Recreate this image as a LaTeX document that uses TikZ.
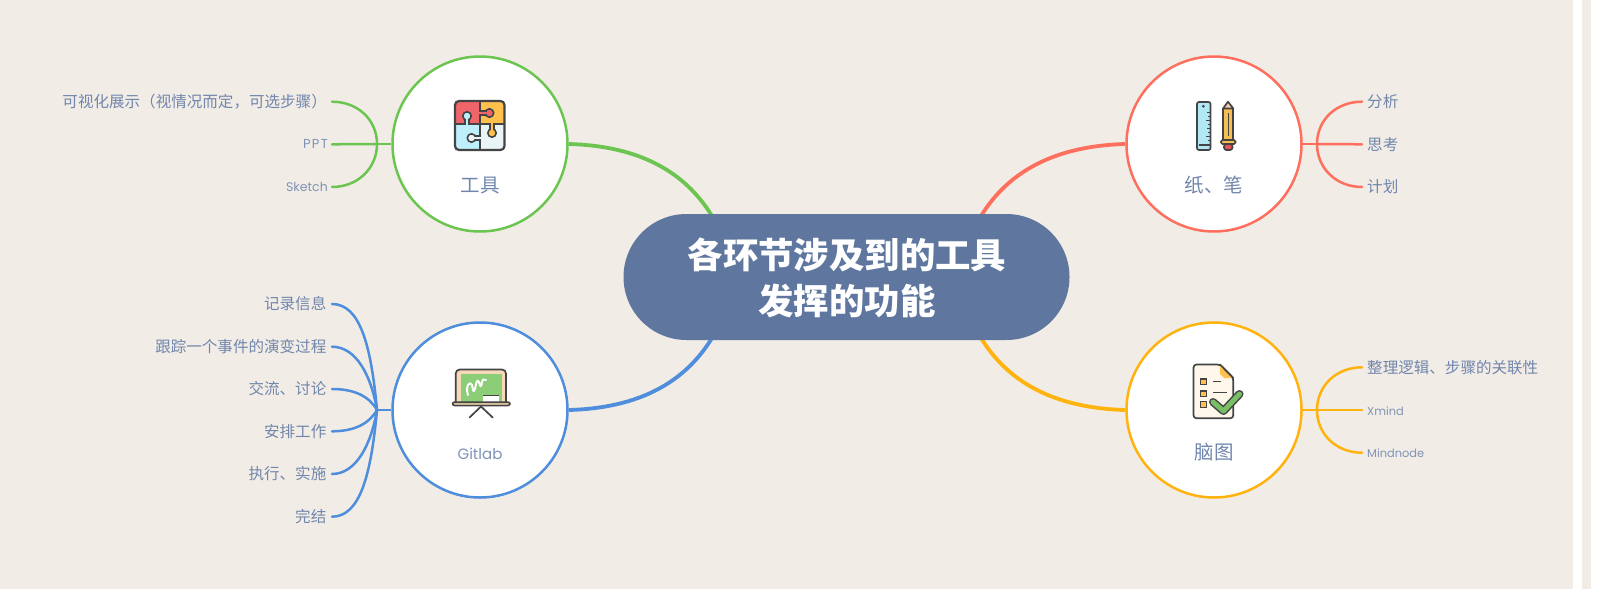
\documentclass[tikz,border=0pt]{standalone}
\usepackage{fontspec}
\setmainfont{Noto Sans CJK SC}
\newfontfamily\latinhand{Poppins}
\definecolor{bgc}{HTML}{F1ECE6}
\definecolor{txt}{HTML}{7186AC}
\definecolor{txtl}{HTML}{8093B6}
\definecolor{cen}{HTML}{5F779F}
\definecolor{gr}{HTML}{6CC551}
\definecolor{bl}{HTML}{4F8EDD}
\definecolor{rd}{HTML}{FF6F5E}
\definecolor{ye}{HTML}{FFB30F}
\definecolor{ink}{HTML}{444444}
\definecolor{pzred}{HTML}{F0656A}
\definecolor{pzyel}{HTML}{FFC04D}
\definecolor{pzblu}{HTML}{BDF0FB}
\definecolor{pzpal}{HTML}{E8F4F5}
\definecolor{peach}{HTML}{F6D9B8}
\definecolor{board}{HTML}{8CCD78}
\definecolor{shelf}{HTML}{D9C09C}
\definecolor{rul}{HTML}{B2E8F3}
\definecolor{pencil}{HTML}{F6BE50}
\definecolor{tip}{HTML}{F6CDAF}
\definecolor{eraser}{HTML}{E7555A}
\definecolor{paper}{HTML}{FFF8EA}
\definecolor{chk}{HTML}{78BE64}
\tikzset{
  hub/.style={circle,draw=#1,fill=white,line width=2.5pt,minimum size=175pt,inner sep=0pt},
  main/.style={line width=3.8pt,color=#1},
  twig/.style={line width=2.5pt,color=#1,line cap=round},
  leafl/.style={anchor=east,text=txt,font=\fontsize{15.55}{18}\selectfont,inner sep=0pt},
  leafr/.style={anchor=west,text=txt,font=\fontsize{15.55}{18}\selectfont,inner sep=0pt},
  latl/.style={anchor=east,text=txtl,font=\fontsize{12.5}{15}\latinhand,inner sep=0pt},
  latr/.style={anchor=west,text=txtl,font=\fontsize{11.4}{15}\latinhand,inner sep=0pt},
  hubtext/.style={text=txt,font=\fontsize{19.5}{22}\selectfont,inner sep=0pt},
  ic/.style={draw=ink,line width=1.7pt,line join=round,line cap=round},
  knob/.style={draw=ink,line width=1.6pt,fill=#1},
}
\begin{document}
\begin{tikzpicture}[x=1pt,y=-1pt]
\useasboundingbox (0,0) rectangle (1600,589);
\fill[white] (0,0) rectangle (1600,589);
\fill[bgc] (0,0) rectangle (1573,589);
\fill[bgc] (1582,0) rectangle (1591,589);

% hubs and centre
\coordinate (cnw) at (712,216);
\coordinate (cne) at (981,216);
\coordinate (csw) at (712,338);
\coordinate (cse) at (981,338);
\node[hub=gr] (tools) at (480,144) {};
\node[hub=bl] (git) at (480,410) {};
\node[hub=rd] (pen) at (1214,144) {};
\node[hub=ye] (brain) at (1214,410) {};

\draw[main=gr] (tools.east) .. controls (640,146) and (685,172) .. (cnw);
\draw[main=bl] (git.east) .. controls (640,408) and (685,382) .. (csw);
\draw[main=rd] (pen.west) .. controls (1054,146) and (1008,172) .. (cne);
\draw[main=ye] (brain.west) .. controls (1054,408) and (1008,382) .. (cse);

\node[fill=cen,rounded corners=63pt,minimum width=446pt,minimum height=126pt,inner sep=0pt] (centre) at (846.5,277) {};
\node[text=white,font=\fontsize{35.4}{46}\selectfont\bfseries,align=center,inner sep=0pt] (centretext) at (847,278) {各环节涉及到的工具\\发挥的功能};

% hub labels
\node[hubtext] (tl) at (480,185.5) {工具};
\node[hubtext,font=\fontsize{15}{18}\latinhand,text=txtl] (gl) at (480,454) {Gitlab};
\node[hubtext] (pl) at (1214,185.5) {纸、笔};
\node[hubtext] (bl1) at (1214,452) {脑图};

% left green
\coordinate (jt) at (377,144);
\draw[twig=gr,line cap=butt] (tools.west) -- (jt);
\node[leafl] (t1) at (327,101.7) {可视化展示（视情况而定，可选步骤）};
\node[latl,font=\fontsize{13}{15}\latinhand\addfontfeature{LetterSpace=10}] (t2) at (328,144.3) {PPT};
\node[latl] (t3) at (328,187) {Sketch};
\coordinate (t1e) at (332,101.7);
\coordinate (t2e) at (332,144.3);
\coordinate (t3e) at (332,187);
\draw[twig=gr] (t1e) .. controls (358,101.7) and (377,120) .. (jt);
\draw[twig=gr] (t2e) -- (jt);
\draw[twig=gr] (t3e) .. controls (358,187) and (377,168) .. (jt);

% left blue
\coordinate (jg) at (377,410);
\draw[twig=bl,line cap=butt] (git.west) -- (jg);
\node[leafl] (g1) at (326.5,304) {记录信息};
\node[leafl] (g2) at (326.5,346.7) {跟踪一个事件的演变过程};
\node[leafl] (g3) at (326.5,389) {交流、讨论};
\node[leafl] (g4) at (326.5,431.3) {安排工作};
\node[leafl] (g5) at (326.5,474) {执行、实施};
\node[leafl] (g6) at (326.5,516.7) {完结};
\coordinate (g1e) at (332,304);
\coordinate (g2e) at (332,346.7);
\coordinate (g3e) at (332,389);
\coordinate (g4e) at (332,431.3);
\coordinate (g5e) at (332,474);
\coordinate (g6e) at (332,516.7);
\draw[twig=bl] (g1e) .. controls (360,304) and (371,345) .. (jg);
\draw[twig=bl] (g2e) .. controls (356,346.7) and (371,375) .. (jg);
\draw[twig=bl] (g3e) .. controls (354,389) and (369,396) .. (jg);
\draw[twig=bl] (g4e) .. controls (354,431.3) and (369,424) .. (jg);
\draw[twig=bl] (g5e) .. controls (356,474) and (371,445) .. (jg);
\draw[twig=bl] (g6e) .. controls (360,516.7) and (371,475) .. (jg);

% right red
\coordinate (jp) at (1317,144);
\draw[twig=rd,line cap=butt] (pen.east) -- (jp);
\node[leafr] (p1) at (1367,101.7) {分析};
\node[leafr] (p2) at (1367,144.3) {思考};
\node[leafr] (p3) at (1367,187) {计划};
\coordinate (p1e) at (1362,101.7);
\coordinate (p2e) at (1362,144.3);
\coordinate (p3e) at (1362,187);
\draw[twig=rd] (p1e) .. controls (1336,101.7) and (1317,120) .. (jp);
\draw[twig=rd] (p2e) -- (jp);
\draw[twig=rd] (p3e) .. controls (1336,187) and (1317,168) .. (jp);

% right yellow
\coordinate (jb) at (1317,410);
\draw[twig=ye,line cap=butt] (brain.east) -- (jb);
\node[leafr] (b1) at (1367,367.3) {整理逻辑、步骤的关联性};
\node[latr] (b2) at (1367,411) {Xmind};
\node[latr] (b3) at (1367,453) {Mindnode};
\coordinate (b1e) at (1362,367.3);
\coordinate (b2e) at (1362,410);
\coordinate (b3e) at (1362,452.7);
\draw[twig=ye] (b1e) .. controls (1336,367.3) and (1317,386) .. (jb);
\draw[twig=ye] (b2e) -- (jb);
\draw[twig=ye] (b3e) .. controls (1336,452.7) and (1317,434) .. (jb);

% puzzle icon
\begin{scope}
\clip[rounded corners=4pt] (455,101) rectangle (504.5,150);
\fill[pzred] (455,101) rectangle (480,124);
\fill[pzyel] (480,101) rectangle (504.5,124);
\fill[pzblu] (455,124) rectangle (480,150);
\fill[pzpal] (480,124) rectangle (504.5,150);
\end{scope}
\draw[ink,line width=1.7pt] (480,101) -- (480,150) (455,124) -- (504.5,124);
% knob: blue into red
\draw[knob=pzblu] (465,118) rectangle (469,124);
\draw[knob=pzblu] (467,116) circle (4.2);
\fill[pzblu] (465.8,116) rectangle (468.2,125);
% knob: red into yellow
\draw[knob=pzred] (480,111) rectangle (486,115);
\draw[knob=pzred] (489.5,113) circle (4.2);
\fill[pzred] (479,111.8) rectangle (489.5,114.2);
% knob: yellow into pale
\draw[knob=pzyel] (490,124) rectangle (494,130);
\draw[knob=pzyel] (492,133) circle (4.2);
\fill[pzyel] (490.8,123) rectangle (493.2,133);
% knob: pale into blue
\draw[knob=pzpal] (474,136) rectangle (480,140);
\draw[knob=pzpal] (471.5,138) circle (4.2);
\fill[pzpal] (471.5,136.8) rectangle (481,139.2);
\draw[ink,line width=2.2pt,rounded corners=4pt] (455,101) rectangle (504.5,150);

% blackboard
\begin{scope}[yshift=-270pt]
\draw[ic,fill=peach,rounded corners=4pt] (455.7,133) -- (455.7,99.5) -- (506,99.5) -- (506,133);
\fill[board] (460.7,104) rectangle (501.5,132);
\fill[white] (483.3,125.5) rectangle (499,132);
\draw[ink,line width=1.3pt] (483.3,125.5) -- (499,125.5);
\draw[white,line width=2pt,line cap=round,line join=round] (468,125) .. controls (465,116) and (470,110) .. (472,115) .. controls (473,119) and (473,124) .. (475,119) .. controls (476,114) and (477,108) .. (479,112) .. controls (480,116) and (481,119) .. (482,112) .. controls (483,108) and (484,110) .. (486,110);
\draw[ic,line width=1.5pt,fill=shelf,rounded corners=2pt] (452.5,132) rectangle (510,135.5);
\draw[ic] (469.5,147.5) -- (481,136.5) -- (492.7,147.5);
\end{scope}

% ruler
\draw[ic,fill=rul,rounded corners=2pt] (1197,102) rectangle (1210.5,150);
\fill[ink] (1203.3,106.3) circle (1.5);
\foreach \yy/\ll in {112/4,116/3,120/5,124/3,128/4,132/3,136/5,140/3}{
  \draw[ink,line width=1pt] (1210.5,\yy) -- ++(-\ll,0);
}
\draw[ink,line width=1.2pt] (1199,145) -- (1210,145);
% pencil
\draw[ic,fill=pencil] (1223,140) -- (1223,108.5) -- (1233.3,108.5) -- (1233.3,140) -- cycle;
\draw[ic,fill=tip] (1223,108.5) -- (1228,101.7) -- (1233.3,108.5) -- cycle;
\draw[ink,line width=1.2pt] (1228.2,113) -- (1228.2,136);
\draw[ic,fill=eraser,rounded corners=2.5pt] (1224,144) rectangle (1232.5,150);
\draw[ic,fill=pencil,rounded corners=1.5pt] (1221,140) rectangle (1235.5,144);

% checklist
\draw[ic,fill=paper,rounded corners=3pt] (1233.3,378) -- (1233.3,418.3) -- (1193.5,418.3) -- (1193.5,364.5) -- (1220,364.5) -- cycle;
\fill[pzyel] (1220,364.5) -- (1233.3,378) -- (1224,378) -- (1220,374) -- cycle;
\draw[ic] (1220,364.5) -- (1233.3,378);
\foreach \yy in {379,391,401.7}{
  \draw[ink,line width=1.3pt,fill=pzyel] (1200.7,\yy) rectangle ++(6,5.7);
}
\draw[ink,line width=1.3pt] (1212.7,381.7) -- (1220.7,381.7) (1212.7,392.7) -- (1226.7,392.7);
\draw[ink,line width=8pt,line cap=round,line join=round] (1213,402) -- (1223.5,411) -- (1239.5,394);
\draw[chk,line width=5pt,line cap=round,line join=round] (1213,402) -- (1223.5,411) -- (1239.5,394);
\end{tikzpicture}
\end{document}
